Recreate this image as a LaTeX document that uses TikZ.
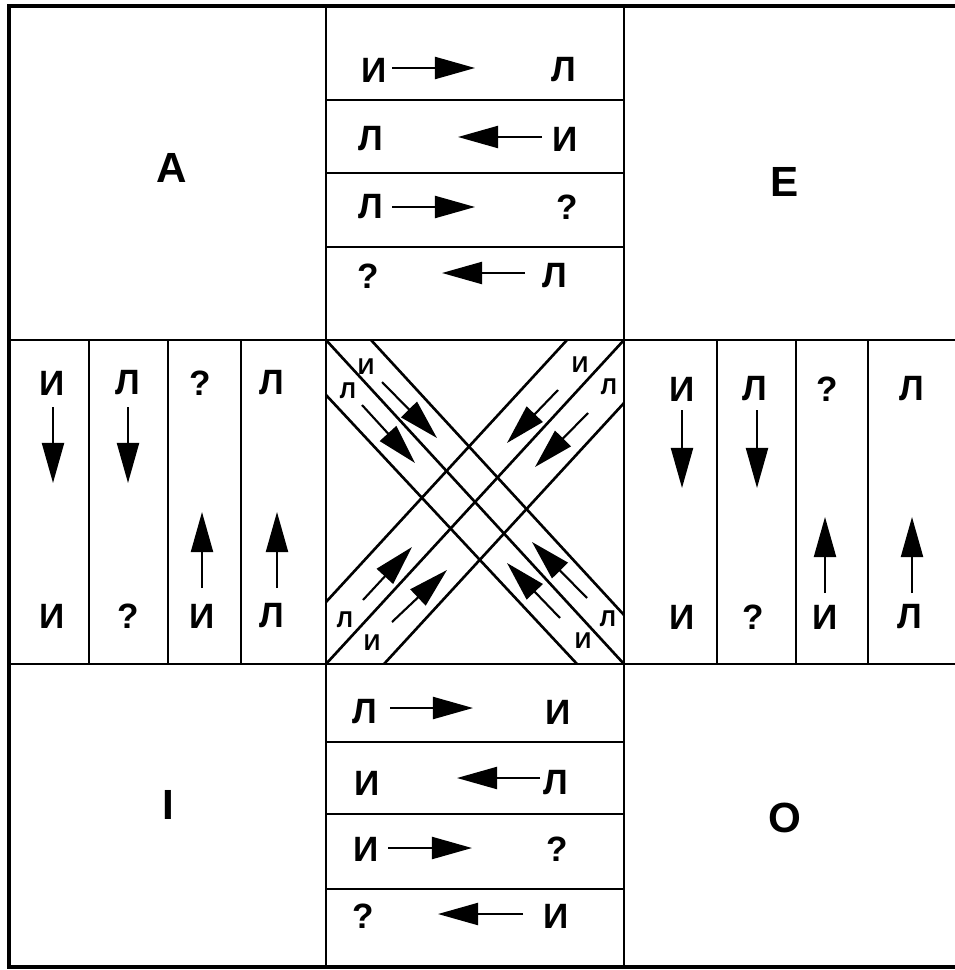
\documentclass[tikz,border=0pt]{standalone}
\usepackage{fontspec}
\setmainfont{Liberation Sans}
\usetikzlibrary{arrows.meta}
\tikzset{
	lettre/.style={font=\fontsize{10}{12}\selectfont\bfseries, inner sep=0pt},
	grande/.style={font=\fontsize{12}{14}\selectfont\bfseries, inner sep=0pt},
	petite/.style={font=\fontsize{6.5}{8}\selectfont\bfseries, inner sep=0pt},
	fleche/.style={line width=.6pt, -{Triangle[length=.4cm,width=.22cm]}},
	cadre/.style={line width=1.1pt},
	trait/.style={line width=.75pt}
}
\begin{document}
\begin{tikzpicture}[x=.01cm,y=-.01cm]
		\useasboundingbox (0,0) rectangle (955,970);

		% cadre et cases
		\draw[cadre] (955,6) -- (9,6) -- (9,967) -- (955,967);
		\draw[trait] (326,6) -- (326,967);
		\draw[trait] (624,6) -- (624,967);
		\draw[trait] (9,340) -- (955,340);
		\draw[trait] (9,664) -- (955,664);
		\foreach \y in {100,173,247,742,814,889}
			\draw[trait] (326,\y) -- (624,\y);
		\foreach \x in {89,168,241,717,796,868}
			\draw[trait] (\x,340) -- (\x,664);

		% coins
		\node[grande] (cA) at (172,168) {A};
		\node[grande] (cE) at (785,182) {E};
		\node[grande] (cI) at (168,805) {I};
		\node[grande] (cO) at (785,818) {O};

		% bande du haut
		\foreach \xg/\g/\xd/\d/\y [count=\i] in {374/И/564/Л/70, 371/Л/565/И/139, 371/Л/567/?/207, 368/?/555/Л/276}{
			\node[lettre] (hg\i) at (\xg,\y) {\g};
			\node[lettre] (hd\i) at (\xd,\y) {\d};
		}
		\foreach \a/\b/\y [count=\i] in {392/475/68, 542/458/137, 392/475/207, 525/442/273}{
			\coordinate (hq\i) at (\a,\y);
			\coordinate (ht\i) at (\b,\y);
			\draw[fleche] (hq\i) -- (ht\i);
		}

		% bande du bas
		\foreach \xg/\g/\xd/\d/\y [count=\i] in {365/Л/558/И/712, 367/И/556/Л/783, 366/И/557/?/849, 363/?/556/И/916}{
			\node[lettre] (bg\i) at (\xg,\y) {\g};
			\node[lettre] (bd\i) at (\xd,\y) {\d};
		}
		\foreach \a/\b/\y [count=\i] in {390/473/708, 540/457/778, 388/472/848, 523/438/914}{
			\coordinate (bq\i) at (\a,\y);
			\coordinate (bt\i) at (\b,\y);
			\draw[fleche] (bq\i) -- (bt\i);
		}

		% bande de gauche
		\foreach \xh/\h/\xb/\b [count=\i] in {52/И/52/И, 128/Л/128/?, 200/?/202/И, 272/Л/272/Л}{
			\node[lettre] (gh\i) at (\xh,383) {\h};
			\node[lettre] (gb\i) at (\xb,616) {\b};
		}
		\foreach \x/\a/\b [count=\i] in {53/407/483, 128/407/483, 202/588/512, 277/588/512}{
			\coordinate (gq\i) at (\x,\a);
			\coordinate (gt\i) at (\x,\b);
			\draw[fleche] (gq\i) -- (gt\i);
		}

		% bande de droite
		\foreach \xh/\h/\xb/\b [count=\i] in {682/И/682/И, 755/Л/753/?, 827/?/825/И, 912/Л/910/Л}{
			\node[lettre] (dh\i) at (\xh,389) {\h};
			\node[lettre] (db\i) at (\xb,617) {\b};
		}
		\foreach \x/\a/\b [count=\i] in {682/410/488, 757/410/488, 825/593/517, 912/593/517}{
			\coordinate (dq\i) at (\x,\a);
			\coordinate (dt\i) at (\x,\b);
			\draw[fleche] (dq\i) -- (dt\i);
		}

		% croix du centre
		\draw[trait] (326,340) -- (624,664);
		\draw[trait] (371,340) -- (624,615);
		\draw[trait] (326,395) -- (577,664);
		\draw[trait] (624,340) -- (326,664);
		\draw[trait] (567,340) -- (326,602);
		\draw[trait] (624,403) -- (384,664);

		\node[petite] (xi1) at (366,367) {И};
		\node[petite] (xl1) at (348,391) {Л};
		\node[petite] (xi2) at (580,365) {И};
		\node[petite] (xl2) at (609,387) {Л};
		\node[petite] (xl3) at (345,620) {Л};
		\node[petite] (xi3) at (372,643) {И};
		\node[petite] (xl4) at (608,619) {Л};
		\node[petite] (xi4) at (583,641) {И};

		\foreach \a/\b/\c/\d [count=\i] in {382/382/437/438, 362/405/415/463, 558/390/507/443, 588/413/535/467,
				363/600/412/547, 392/622/447/570, 587/598/532/542, 560/618/507/563}{
			\coordinate (xq\i) at (\a,\b);
			\coordinate (xt\i) at (\c,\d);
			\draw[fleche] (xq\i) -- (xt\i);
		}
	\end{tikzpicture}
\end{document}
